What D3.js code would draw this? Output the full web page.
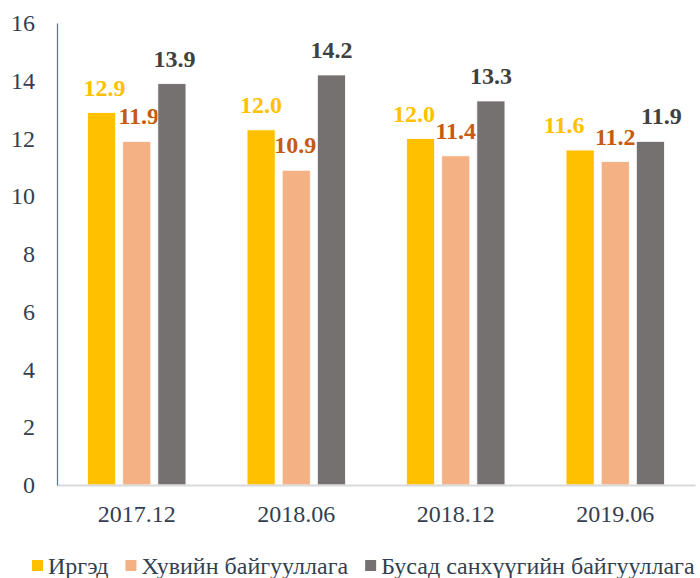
<!DOCTYPE html>
<html>
<head>
<meta charset="utf-8">
<script src="https://cdn.jsdelivr.net/npm/d3@7"></script>
<style>
  body { margin: 0; background: #fff; }
</style>
</head>
<body>
<div id="chart"></div>
<script>
// DATA
const categories = ["2017.12", "2018.06", "2018.12", "2019.06"]
const seriesNames = ["Иргэд", "Хувийн байгууллага", "Бусад санхүүгийн байгууллага"]
const citizens = [12.9, 12.3, 12.0, 11.6]
const privateOrgs = [11.9, 10.9, 11.4, 11.2]
const otherFinancial = [13.9, 14.2, 13.3, 11.9]
// labels as printed on the chart
const citizensLabels = ["12.9", "12.0", "12.0", "11.6"]
const privateLabels = ["11.9", "10.9", "11.4", "11.2"]
const otherLabels = ["13.9", "14.2", "13.3", "11.9"]
const yTicks = [0, 2, 4, 6, 8, 10, 12, 14, 16]

const barColors = ["#FFC000", "#F4B183", "#767171"]
const labelColors = ["#FFC000", "#C55A11", "#404040"]

const series = [
    {name: seriesNames[0], values: citizens, labels: citizensLabels},
    {name: seriesNames[1], values: privateOrgs, labels: privateLabels},
    {name: seriesNames[2], values: otherFinancial, labels: otherLabels},
]

// DIMENSIONS
const dimensions = {
    width: 700,
    height: 578,
    margin: {top: 23, right: 5, bottom: 93, left: 57}
}
dimensions.boundedWidth = dimensions.width - dimensions.margin.left - dimensions.margin.right
dimensions.boundedHeight = dimensions.height - dimensions.margin.top - dimensions.margin.bottom

// data labels were nudged by hand in the original (px, per series / category)
const labelNudge = [
    [3, 0, -6.5, -16],
    [2, -1, 0, 0],
    [2.5, 0, 0, 11],
]

const textColor = "#333F50"
const serif = "Liberation Serif"

// CANVAS
const wrapper = d3.select("#chart")
    .append("svg")
    .attr("width", dimensions.width)
    .attr("height", dimensions.height)
    .attr("font-family", serif)

const bounds = wrapper.append("g")
    .attr("transform", `translate(${dimensions.margin.left},${dimensions.margin.top})`)

// SCALES
const xScale = d3.scaleBand()
    .domain(categories)
    .range([0, dimensions.boundedWidth])
    .paddingInner(0.383)
    .paddingOuter(0.1915)

const seriesScale = d3.scaleBand()
    .domain(seriesNames)
    .range([0, xScale.bandwidth()])
    .paddingInner(0.2)

const yScale = d3.scaleLinear()
    .domain([0, 16])
    .range([dimensions.boundedHeight, 0])

// BARS
const groups = bounds.selectAll(".group")
    .data(series)
    .join("g")
    .attr("class", "group")

groups.each(function(s, si) {
    const g = d3.select(this)
    g.selectAll("rect")
        .data(s.values)
        .join("rect")
        .attr("x", (d, i) => xScale(categories[i]) + seriesScale(s.name))
        .attr("y", d => yScale(d))
        .attr("width", seriesScale.bandwidth())
        .attr("height", d => yScale(0) - yScale(d))
        .attr("fill", barColors[si])
        .attr("stroke", "#fff")
        .attr("stroke-width", 0.8)

    g.selectAll("text")
        .data(s.values)
        .join("text")
        .attr("x", (d, i) => xScale(categories[i]) + seriesScale(s.name)
            + seriesScale.bandwidth() / 2 + labelNudge[si][i])
        .attr("y", d => yScale(d) - 17)
        .attr("text-anchor", "middle")
        .attr("fill", labelColors[si])
        .attr("font-family", serif)
        .attr("font-size", 24)
        .attr("font-weight", "bold")
        .text((d, i) => s.labels[i])
})

// AXES
const xAxis = bounds.append("g")
    .attr("transform", `translate(0,${dimensions.boundedHeight})`)
    .call(d3.axisBottom(xScale).tickSize(0).tickPadding(20))
xAxis.select(".domain")
    .attr("stroke", "#D9D9D9")
    .attr("stroke-width", 2)
xAxis.selectAll(".tick text")
    .attr("fill", textColor)
    .attr("font-family", serif)
    .attr("font-size", 24)

const yAxis = bounds.append("g")
    .call(d3.axisLeft(yScale).tickValues(yTicks).tickSize(0).tickPadding(22))
yAxis.select(".domain")
    .attr("stroke", "#4472C4")
    .attr("stroke-width", 1.2)
yAxis.selectAll(".tick text")
    .attr("fill", textColor)
    .attr("font-family", serif)
    .attr("font-size", 24)

// LEGEND
const legend = wrapper.append("g")
    .attr("transform", `translate(32, 574)`)

let legendX = 0
series.forEach((s, i) => {
    const item = legend.append("g")
        .attr("transform", `translate(${legendX},0)`)
    item.append("rect")
        .attr("x", 0)
        .attr("y", -14)
        .attr("width", 11)
        .attr("height", 11)
        .attr("fill", barColors[i])
    const label = item.append("text")
        .attr("x", 16)
        .attr("y", 0)
        .attr("fill", textColor)
        .attr("font-family", serif)
        .attr("font-size", 24)
        .text(s.name)
    legendX += 16 + label.node().getComputedTextLength() + 17
})
</script>
</body>
</html>
